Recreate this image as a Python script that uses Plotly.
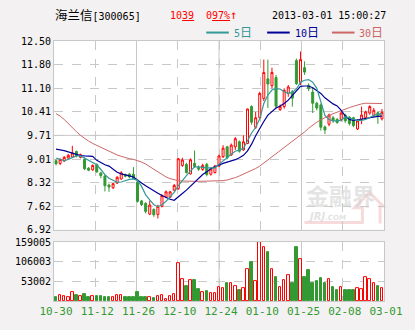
import plotly.graph_objects as go

# ---- daily bars, 2012-10-30 .. 2013-03-01 (index order) ----
opens = [8.96, 8.88, 8.95, 9.04, 9.07, 9.23, 9.06, 9.00, 8.74, 8.69,
         8.85, 8.60, 8.51, 8.24, 8.16, 8.30, 8.42, 8.55, 8.56, 8.56,
         8.32, 7.77, 7.70, 7.38, 7.52, 7.37, 7.61, 7.88, 7.88, 8.09,
         8.13, 8.82, 8.85, 8.57, 8.88, 8.76, 8.70, 8.85, 8.56, 8.61,
         8.80, 9.08, 9.37, 9.13, 9.37, 9.52, 9.28, 9.47, 10.56, 9.95,
         10.23, 10.80, 11.38, 11.18, 11.42, 10.47, 10.56, 10.95, 11.00, 11.92,
         11.28, 11.71, 11.18, 10.99, 10.66, 10.61, 9.96, 10.04, 10.23, 10.18,
         10.18, 10.31, 10.25, 10.23, 9.90, 10.18, 10.23, 10.37, 10.30, 10.38,
         10.20]
highs = [9.00, 9.03, 9.10, 9.16, 9.40, 9.26, 9.17, 9.05, 8.77, 8.85,
         8.88, 8.63, 8.55, 8.28, 8.30, 8.50, 8.65, 8.58, 8.60, 8.77,
         8.36, 7.80, 7.73, 7.78, 7.55, 7.66, 7.97, 8.08, 8.07, 8.27,
         9.03, 9.05, 8.90, 9.03, 9.26, 8.82, 8.87, 8.90, 8.76, 8.84,
         9.14, 9.42, 9.40, 9.47, 9.66, 9.56, 9.71, 10.50, 10.60, 10.40,
         11.00, 11.95, 11.95, 11.71, 11.50, 10.62, 11.10, 11.20, 11.05, 11.98,
         12.19, 11.90, 11.25, 11.14, 10.70, 10.65, 10.00, 10.35, 10.28, 10.22,
         10.42, 10.35, 10.28, 10.26, 10.18, 10.56, 10.44, 10.60, 10.52, 10.42,
         10.49]
lows = [8.82, 8.83, 8.93, 9.02, 9.05, 9.06, 9.03, 8.68, 8.65, 8.66,
        8.60, 8.44, 8.05, 8.04, 8.12, 8.27, 8.40, 8.47, 8.45, 8.40,
        7.72, 7.62, 7.40, 7.35, 7.30, 7.25, 7.58, 7.85, 7.85, 8.05,
        8.10, 8.78, 8.58, 8.55, 8.75, 8.66, 8.66, 8.50, 8.52, 8.58,
        8.78, 9.04, 9.00, 9.10, 9.28, 9.20, 9.25, 9.45, 10.02, 9.90,
        10.20, 10.72, 10.52, 11.10, 10.50, 10.43, 10.50, 10.85, 10.56, 11.20,
        11.20, 11.50, 11.02, 10.37, 10.45, 9.85, 9.75, 9.98, 10.08, 10.05,
        10.12, 10.08, 10.00, 9.95, 9.87, 10.04, 10.18, 10.32, 10.25, 10.05,
        10.15]
closes = [8.87, 9.00, 9.06, 9.12, 9.19, 9.10, 9.14, 8.72, 8.68, 8.82,
          8.63, 8.52, 8.22, 8.18, 8.28, 8.47, 8.60, 8.50, 8.48, 8.43,
          7.76, 7.66, 7.46, 7.65, 7.36, 7.61, 7.93, 8.04, 8.04, 8.23,
          9.02, 8.98, 8.61, 8.99, 8.79, 8.71, 8.82, 8.55, 8.72, 8.80,
          9.10, 9.33, 9.05, 9.42, 9.61, 9.24, 9.52, 10.49, 10.10, 10.23,
          10.95, 11.57, 11.23, 11.57, 10.57, 10.56, 11.04, 11.14, 10.81, 11.24,
          11.95, 11.58, 11.09, 10.66, 10.52, 9.95, 9.87, 10.31, 10.14, 10.09,
          10.37, 10.14, 10.06, 10.00, 10.14, 10.31, 10.40, 10.56, 10.45, 10.29,
          10.39]
volumes = [10500, 14800, 12200, 10500, 22700, 15700, 13000, 18300, 10500, 13000,
           13000, 13000, 10500, 10500, 10500, 14800, 14800, 10500, 10500, 10500,
           23600, 10500, 10500, 10500, 7900, 13000, 14800, 5200, 12200, 17500,
           102000, 60000, 39000, 56800, 57600, 32300, 25300, 26000, 21000, 21000,
           38400, 35800, 47000, 49000, 41000, 29700, 35800, 85600, 105600, 54000,
           159000, 145800, 131000, 85600, 64600, 38400, 56800, 69800, 47000, 146700,
           114000, 64600, 83800, 47000, 52400, 62900, 47000, 59400, 36700, 30600,
           38400, 29700, 28800, 28800, 35800, 33200, 64600, 59400, 47000, 41000,
           35000]

# ---- moving averages ----
ma5 = [9.04, 9.00, 8.96, 9.00, 9.05, 9.10, 9.10, 9.04, 8.97, 8.92,
       8.84, 8.70, 8.55, 8.44, 8.37, 8.32, 8.33, 8.38, 8.41, 8.42,
       8.38, 8.20, 7.95, 7.80, 7.66, 7.60, 7.66, 7.76, 7.88, 8.02,
       8.22, 8.38, 8.52, 8.65, 8.78, 8.78, 8.76, 8.75, 8.75, 8.75,
       8.86, 8.95, 9.05, 9.16, 9.24, 9.28, 9.32, 9.55, 9.78, 9.95,
       10.20, 10.65, 10.90, 11.05, 11.09, 11.08, 11.00, 10.95, 10.98, 11.08,
       11.28, 11.34, 11.36, 11.28, 11.10, 10.70, 10.30, 10.18, 10.14, 10.14,
       10.16, 10.26, 10.22, 10.18, 10.15, 10.15, 10.18, 10.24, 10.30, 10.33,
       10.35]
ma10 = [9.30, 9.29, 9.26, 9.22, 9.18, 9.14, 9.11, 9.10, 9.10, 9.09,
        8.97, 8.90, 8.84, 8.80, 8.70, 8.62, 8.57, 8.53, 8.51, 8.48,
        8.38, 8.30, 8.22, 8.14, 8.06, 8.00, 7.93, 7.87, 7.82, 7.79,
        7.88, 7.99, 8.09, 8.20, 8.32, 8.45, 8.55, 8.63, 8.72, 8.78,
        8.84, 8.88, 8.92, 8.95, 8.99, 9.05, 9.12, 9.25, 9.45, 9.70,
        9.92, 10.12, 10.31, 10.43, 10.52, 10.58, 10.65, 10.75, 10.88, 11.03,
        11.16, 11.17, 11.17, 11.12, 11.04, 10.95, 10.82, 10.72, 10.64, 10.58,
        10.45, 10.28, 10.18, 10.15, 10.17, 10.19, 10.22, 10.25, 10.26, 10.27,
        10.28]
ma30 = [10.35, 10.28, 10.18, 10.05, 9.93, 9.82, 9.71, 9.62, 9.54, 9.47,
        9.41, 9.35, 9.29, 9.23, 9.18, 9.13, 9.09, 9.05, 9.02, 9.00,
        8.97, 8.92, 8.86, 8.78, 8.70, 8.62, 8.55, 8.48, 8.43, 8.39,
        8.37, 8.36, 8.35, 8.35, 8.35, 8.35, 8.35, 8.35, 8.35, 8.35,
        8.36, 8.37, 8.39, 8.42, 8.46, 8.51, 8.56, 8.61, 8.67, 8.73,
        8.80, 8.89, 8.98, 9.08, 9.18, 9.27, 9.35, 9.43, 9.52, 9.61,
        9.71, 9.81, 9.92, 10.02, 10.10, 10.17, 10.24, 10.30, 10.35, 10.40,
        10.45, 10.49, 10.53, 10.57, 10.61, 10.64, 10.66, 10.66, 10.66, 10.66,
        10.65]

date_labels = ["10-30", "11-12", "11-26", "12-10", "12-24",
               "01-10", "01-25", "02-08", "03-01"]
price_ticks = [6.92, 7.62, 8.32, 9.01, 9.71, 10.41, 11.10, 11.80, 12.50]
volume_ticks = [53002, 106003, 159005]

stock_name = "海兰信"
stock_code = "[300065]"
last_price = ("10", "39")
change_pct = ("0", "97%")
timestamp = "2013-03-01 15:00:27"

# ---- styling ----
RED = "#ff0000"
GREEN = "#339933"
TEAL = "#339999"
NAVY = "#000099"
ROSE = "#cc6666"
GRID = "#c8c8c8"
PAGE = "#f3f1f1"
MONO = "DejaVu Sans Mono, Noto Sans CJK SC"

W, H = 415, 330
ML, MR, MT, MB = 54, 25, 41, 21
PW, PH = W - ML - MR, H - MT - MB


def fx(px):
    return (px - ML) / PW


def fy(py):
    return (H - MB - py) / PH


n = len(closes)
xs = list(range(n))
x_lo, x_hi = -0.5, n - 0.5
grid_x = [x_lo + (x_hi - x_lo) * k / (len(date_labels) - 1) for k in range(len(date_labels))]

fig = go.Figure()

fig.add_trace(go.Candlestick(
    x=xs, open=opens, high=highs, low=lows, close=closes,
    increasing=dict(line=dict(color=RED, width=1), fillcolor="white"),
    decreasing=dict(line=dict(color=GREEN, width=1), fillcolor=GREEN),
    whiskerwidth=0, xaxis="x", yaxis="y", showlegend=False,
))
for vals, col, w in ((ma30, ROSE, 1), (ma10, NAVY, 1.2), (ma5, TEAL, 1.2)):
    fig.add_trace(go.Scatter(x=xs, y=vals, mode="lines",
                             line=dict(color=col, width=w),
                             xaxis="x", yaxis="y", showlegend=False,
                             hoverinfo="skip"))

up = [c >= o for o, c in zip(opens, closes)]
fig.add_trace(go.Bar(
    x=xs, y=volumes, width=0.62,
    marker=dict(color=["white" if u else GREEN for u in up],
                line=dict(color=[RED if u else GREEN for u in up], width=1)),
    xaxis="x2", yaxis="y2", showlegend=False,
))

axis_common = dict(showline=True, mirror=True, linecolor=GRID, linewidth=1,
                   zeroline=False, showgrid=True, gridcolor=GRID,
                   griddash="dash", gridwidth=1, ticks="", fixedrange=True)

main_bottom = fy(235.5)
vol_top = fy(248.3)

fig.update_layout(
    width=W, height=H,
    margin=dict(l=ML, r=MR, t=MT, b=MB),
    paper_bgcolor=PAGE, plot_bgcolor="white",
    bargap=0, showlegend=False,
    xaxis=dict(domain=[0, 1], range=[x_lo, x_hi], anchor="y",
               tickvals=grid_x, showticklabels=False,
               rangeslider=dict(visible=False), **axis_common),
    yaxis=dict(domain=[main_bottom, 1], range=[price_ticks[0], price_ticks[-1]],
               tickvals=price_ticks, ticktext=[f"{v:.2f}" for v in price_ticks],
               tickfont=dict(family=MONO, size=10, color="#000000"),
               anchor="x", **axis_common),
    xaxis2=dict(domain=[0, 1], range=[x_lo, x_hi], anchor="y2", matches="x",
                tickvals=grid_x, ticktext=date_labels, ticklabelshift=2,
                tickfont=dict(family=MONO, size=11, color=GREEN),
                **axis_common),
    yaxis2=dict(domain=[0, vol_top], range=[0, volume_ticks[-1]],
                tickvals=volume_ticks, ticktext=[str(v) for v in volume_ticks],
                tickfont=dict(family=MONO, size=10, color="#000000"),
                anchor="x2", **axis_common),
)

# solid reference lines on every second vertical grid line and the mid price line
shapes = []
for k in (2, 4, 6):
    for yref in ("y domain", "y2 domain"):
        shapes.append(dict(type="line", xref="x", yref=yref, x0=grid_x[k], x1=grid_x[k],
                           y0=0, y1=1, line=dict(color=GRID, width=1), layer="below"))
shapes.append(dict(type="line", xref="x domain", yref="y", x0=0, x1=1,
                   y0=price_ticks[4], y1=price_ticks[4],
                   line=dict(color=GRID, width=1), layer="below"))

# watermark logo outline
logo_pts = [(309, 228), (368, 228), (368, 213), (360, 213), (375, 197),
            (389, 211), (386, 211), (386, 229)]
path = "M " + " L ".join(f"{fx(a):.4f},{fy(b):.4f}" for a, b in logo_pts)
shapes.append(dict(type="path", xref="paper", yref="paper", path=path,
                   line=dict(color="rgba(240,190,190,0.55)", width=3),
                   layer="below"))

# MA legend keys
for x0, col in ((209, TEAL), (271, NAVY), (337, ROSE)):
    shapes.append(dict(type="line", xref="paper", yref="paper",
                       x0=fx(x0), x1=fx(x0 + 23), y0=fy(32.3), y1=fy(32.3),
                       line=dict(color=col, width=2)))
fig.update_layout(shapes=shapes)

ann = []


def label(px, py, text, color="#000000", size=10, family=MONO, anchor="left"):
    ann.append(dict(xref="paper", yref="paper", x=fx(px), y=fy(py), text=text,
                    showarrow=False, xanchor=anchor, yanchor="middle",
                    font=dict(family=family, size=size, color=color)))


label(53, 15, f"<span style='font-size:12.5px'>{stock_name}</span>{stock_code}")
label(170, 14.5, f"{last_price[0]}<u>{last_price[1]}</u>", color=RED)
label(207, 14.5, f"{change_pct[0]}<u>{change_pct[1]}</u><span style='font-size:12px'>↑</span>",
      color=RED)
label(274, 15, timestamp)
label(235, 32.5, "5<span style='font-size:12px'>日</span>", color=TEAL)
label(297, 32.5, "10<span style='font-size:12px'>日</span>", color=NAVY)
label(363, 32.5, "30<span style='font-size:12px'>日</span>", color=ROSE)

# watermark text
label(309, 200, "<b>金融界</b>", color="rgba(210,210,210,0.6)", size=23,
      family="Noto Sans CJK SC")
label(311, 222, "<b><i>JRJ<span style='font-size:7px'>.COM</span></i></b>",
      color="rgba(210,210,210,0.65)", size=10, family="DejaVu Sans")
fig.update_layout(annotations=ann)

fig.write_html("out.html")
